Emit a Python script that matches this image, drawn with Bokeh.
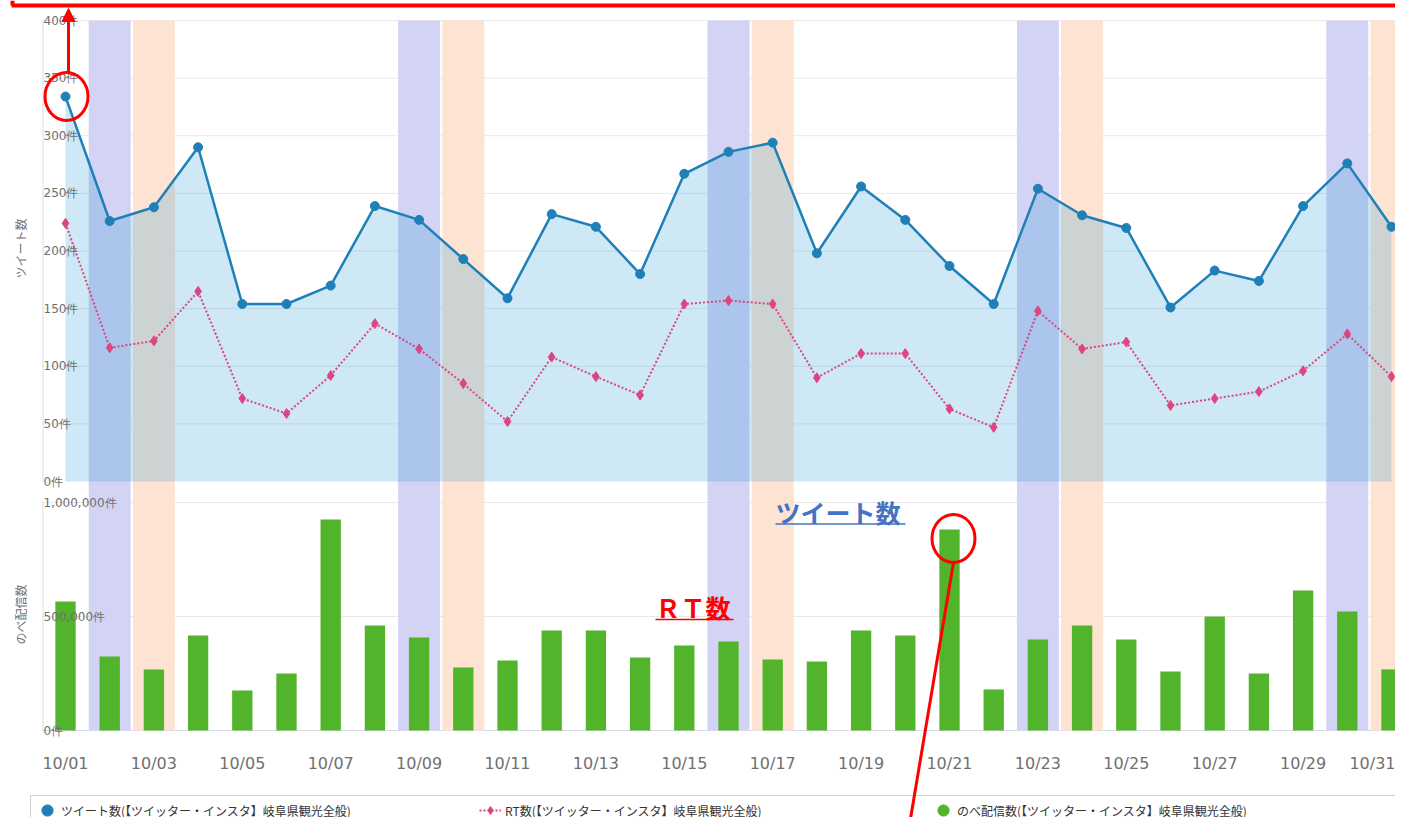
import math
from bokeh.plotting import figure
from bokeh.models import (Range1d, LinearAxis, FixedTicker, Legend, LegendItem,
                          Arrow, NormalHead)
from bokeh.core.properties import value
from bokeh.embed import file_html
from bokeh.resources import INLINE

# ---------------- data ----------------
days = list(range(1, 32))
tweets = [334, 226, 238, 290, 154, 154, 170, 239, 227, 193,
          159, 232, 221, 180, 267, 286, 294, 198, 256, 227,
          187, 154, 254, 231, 220, 151, 183, 174, 239, 276, 221]
retweets = [224, 116, 122, 165, 72, 59, 92, 137, 115, 85,
            52, 108, 91, 75, 154, 157, 154, 90, 111, 111,
            63, 47, 148, 115, 121, 66, 72, 78, 96, 128, 91]
deliveries = [566000, 325000, 268000, 417000, 175000, 250000, 925000, 460000, 408000, 276000,
              307000, 439000, 439000, 320000, 373000, 390000, 311000, 303000, 439000, 417000,
              882000, 180000, 399000, 460000, 399000, 259000, 500000, 250000, 614000, 522000, 268000]
saturdays = [2, 9, 16, 23, 30]
sundays = [3, 10, 17, 24, 31]
x_tick_days = list(range(1, 32, 2))
x_tick_labels = ["10/%02d" % d for d in x_tick_days]
upper_ticks = [0, 50, 100, 150, 200, 250, 300, 350, 400]
upper_tick_labels = ["0件", "50件", "100件", "150件", "200件", "250件", "300件", "350件", "400件"]
lower_ticks = [0, 500000, 1000000]
lower_tick_labels = ["0件", "500,000件", "1,000,000件"]
upper_title = "ツイート数"
lower_title = "のべ配信数"
legend_labels = ["ツイート数(【ツイッター・インスタ】岐阜県観光全般)",
                 "RT数(【ツイッター・インスタ】岐阜県観光全般)",
                 "のべ配信数(【ツイッター・インスタ】岐阜県観光全般)"]
note_tweet = "ツイート数"
note_rt = "ＲＴ数"

# ---------------- layout helpers (image pixel -> data) ----------------
W, H = 1395, 817
PX_DAY = 44.2
X_DAY1 = 65.0
UP_ZERO, UP_PER = 481.0, 1.1525            # upper chart: px per unit
LOW_ZERO, LOW_PER = 730.0, 114.0 / 500000  # lower chart: px per unit


def px(X):
    return 1 + (X - X_DAY1) / PX_DAY


def py(Y):
    return (UP_ZERO - Y) / UP_PER


def pyl(Y):
    return (LOW_ZERO - Y) / LOW_PER


FONT_JP = "Noto Sans CJK JP"
FONT_NUM = "DejaVu Sans"
GRAY = "#707070"

p = figure(width=W, height=H, output_backend="svg", toolbar_location=None,
           x_axis_type=None, y_axis_type=None, min_border=0,
           x_range=Range1d(px(0), px(W)), y_range=Range1d(py(H), py(0)),
           outline_line_color=None, background_fill_color="white")
p.extra_y_ranges = {"low": Range1d(pyl(H), pyl(0))}
p.xgrid.visible = False
p.ygrid.visible = False

# grid lines
p.segment(x0=[px(42)] * 8, x1=[px(1411)] * 8, y0=upper_ticks[1:], y1=upper_ticks[1:],
          line_color="#e9e9e9", line_width=1)
p.segment(x0=[px(42)] * 2, x1=[px(1411)] * 2, y0=lower_ticks[1:], y1=lower_ticks[1:],
          line_color="#e9e9e9", line_width=1, y_range_name="low")
# axis lines
p.segment(x0=[px(42.5), px(42.5)], x1=[px(42.5), px(42.5)],
          y0=[py(20), py(502)], y1=[py(481), py(730)], line_color="#d6dbe6", line_width=1)
p.segment(x0=[px(42)], x1=[px(1411)], y0=[0], y1=[0], line_color="#d6dbe6",
          line_width=1, y_range_name="low")

# weekend bands
band_top = 400
band_bottom = py(730)
p.quad(left=[d - 0.475 for d in saturdays], right=[d + 0.475 for d in saturdays],
       top=band_top, bottom=band_bottom, fill_color="#d3d3f5", line_color=None)
p.quad(left=[d - 0.475 for d in sundays], right=[d + 0.475 for d in sundays],
       top=band_top, bottom=band_bottom, fill_color="#fde4d2", line_color=None)

# tweets area + line
p.varea(x=days, y1=0, y2=tweets, fill_color="#1e97d2", fill_alpha=0.22)
p.line(days, tweets, line_color="#1f80b8", line_width=2.5)
r_tw = p.scatter(days, tweets, marker="circle", size=9, fill_color="#1f80b8", line_color="#1f80b8")

# retweets
r_rt_line = p.line(days, retweets, line_color="#dc4580", line_width=2, line_dash="2 2")
r_rt_pts = p.scatter(days, retweets, marker="diamond", size=10, fill_color="#dc4580",
                     line_color="#dc4580")

# deliveries bars
p.vbar(x=days, top=deliveries, bottom=0, width=0.46, fill_color="#52b42a", line_color=None,
       y_range_name="low")
# legend swatch for the bars (zero-size markers, only shown in the legend)
r_green = p.scatter(days, deliveries, marker="circle", size=0, fill_color="#52b42a",
                    line_color="#52b42a", y_range_name="low")

# y tick labels (drawn inside plot area like the original)
p.text(x=[px(43)] * len(upper_ticks), y=upper_ticks, text=upper_tick_labels,
       text_font=value(FONT_NUM), text_font_size="12px", text_color=GRAY,
       text_align="left", text_baseline="middle")
p.text(x=[px(43)] * len(lower_ticks), y=lower_ticks, text=lower_tick_labels,
       text_font=value(FONT_NUM), text_font_size="12px", text_color=GRAY,
       text_align="left", text_baseline="middle", y_range_name="low")
# axis titles
p.text(x=[px(20), px(20)], y=[py(248), py(614)], text=[upper_title, lower_title],
       angle=math.pi / 2, text_font=value(FONT_JP), text_font_size="12px",
       text_color=GRAY, text_align="center", text_baseline="middle")

# x axis
xaxis = LinearAxis(y_range_name="low", fixed_location=0,
                   ticker=FixedTicker(ticks=x_tick_days),
                   major_label_overrides={d: l for d, l in zip(x_tick_days, x_tick_labels)})
xaxis.axis_line_color = None
xaxis.major_tick_line_color = None
xaxis.minor_tick_line_color = None
xaxis.major_label_standoff = 17
xaxis.major_label_text_font = FONT_NUM
xaxis.major_label_text_font_size = "16px"
xaxis.major_label_text_color = GRAY
p.add_layout(xaxis, "below")

# legend box
p.quad(left=[px(30)], right=[px(1405)], top=[py(795)], bottom=[py(845)],
       fill_color="white", line_color="#d2d2d2", line_width=1)

legend_common = dict(orientation="horizontal", border_line_color=None,
                     background_fill_alpha=0, padding=0, margin=0, spacing=0,
                     label_text_font=FONT_JP, label_text_font_size="12px",
                     label_text_color="#333333")
leg1 = Legend(items=[LegendItem(label=legend_labels[0], renderers=[r_tw])],
              location=(33, -7), glyph_width=28, glyph_height=28, label_standoff=0,
              **legend_common)
leg2 = Legend(items=[LegendItem(label=legend_labels[1], renderers=[r_rt_line, r_rt_pts])],
              location=(479, -3), glyph_width=22, glyph_height=20, label_standoff=4,
              **legend_common)
leg3 = Legend(items=[LegendItem(label=legend_labels[2], renderers=[r_green])],
              location=(929, -7), glyph_width=28, glyph_height=28, label_standoff=0,
              **legend_common)
for lg in (leg1, leg2, leg3):
    p.add_layout(lg)

# ---------------- red annotations ----------------
p.segment(x0=[px(11), px(12)], x1=[px(1411), px(12)], y0=[py(5), py(0)], y1=[py(5), py(5)],
          line_color="#ff0000", line_width=4)
p.ellipse(x=[px(66), px(953)], y=[py(96), py(538)], width=43, height=48,
          width_units="screen", height_units="screen",
          fill_color=None, line_color="#ff0000", line_width=3)
p.add_layout(Arrow(x_start=px(68), y_start=py(73), x_end=px(68), y_end=py(8),
                   line_color="#ff0000", line_width=3,
                   end=NormalHead(size=13, fill_color="#ff0000", line_color="#ff0000")))
p.add_layout(Arrow(x_start=px(953), y_start=py(562), x_end=px(907), y_end=py(836),
                   line_color="#ff0000", line_width=3,
                   end=NormalHead(size=13, fill_color="#ff0000", line_color="#ff0000")))

p.text(x=[px(775)], y=[py(511)], text=[note_tweet], text_font=value(FONT_JP),
       text_font_size="25px", text_font_style="bold", text_color="#4472c4",
       text_align="left", text_baseline="middle")
p.segment(x0=[px(775)], x1=[px(905)], y0=[py(523.5)], y1=[py(523.5)],
          line_color="#4472c4", line_width=1.5)
p.text(x=[px(655)], y=[py(606)], text=[note_rt], text_font=value(FONT_JP),
       text_font_size="25px", text_font_style="bold", text_color="#ff0000",
       text_align="left", text_baseline="middle")
p.segment(x0=[px(655)], x1=[px(733)], y0=[py(619)], y1=[py(619)],
          line_color="#ff0000", line_width=1.5)

open("out.html", "w").write(file_html(p, INLINE))
